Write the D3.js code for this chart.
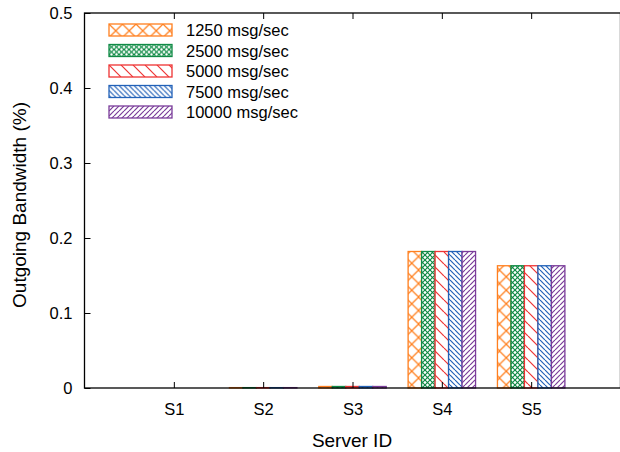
<!DOCTYPE html>
<html>
<head>
<meta charset="utf-8">
<script src="https://cdn.jsdelivr.net/npm/d3@7"></script>
<style>
  body { margin: 0; background: #fff; }
  text { font-family: "Liberation Sans", Arial, sans-serif; fill: #000; }
</style>
</head>
<body>
<svg id="chart"></svg>
<script>
var servers = ["S1", "S2", "S3", "S4", "S5"];
var seriesNames = ["1250 msg/sec", "2500 msg/sec", "5000 msg/sec", "7500 msg/sec", "10000 msg/sec"];
var bw1250 = [0, 0.0005, 0.002, 0.182, 0.163];
var bw2500 = [0, 0.0005, 0.002, 0.182, 0.163];
var bw5000 = [0, 0.0005, 0.002, 0.182, 0.163];
var bw7500 = [0, 0.0005, 0.002, 0.182, 0.163];
var bw10000 = [0, 0.0005, 0.002, 0.182, 0.163];
var yTicks = [0, 0.1, 0.2, 0.3, 0.4, 0.5];

var seriesValues = [bw1250, bw2500, bw5000, bw7500, bw10000];
var colors = ["#ff7f1e", "#0f8a45", "#ee3333", "#2262b8", "#7a3c9a"];

var width = 620, height = 452;
var plotLeft = 84.5, plotTop = 13, plotRight = 620.5, plotBottom = 388;

var svg = d3.select("#chart").attr("width", width).attr("height", height);

var x = d3.scaleLinear().domain([0, 6]).range([plotLeft, plotRight]);
var y = d3.scaleLinear().domain([0, 0.5]).range([plotBottom, plotTop]);

// hatch patterns
var defs = svg.append("defs");
function hatch(id, color, size, dirs) {
    var p = defs.append("pattern")
        .attr("id", id)
        .attr("patternUnits", "userSpaceOnUse")
        .attr("width", size).attr("height", size);
    p.append("rect").attr("width", size).attr("height", size).attr("fill", "#fff");
    dirs.forEach(function(d) {
        var lines = d === "\\" ?
            [[0, 0, size, size], [-size, 0, 0, size], [size, 0, 2 * size, size]] :
            [[0, size, size, 0], [-size, size, 0, 0], [size, size, 2 * size, 0]];
        lines.forEach(function(l) {
            p.append("line")
                .attr("x1", l[0]).attr("y1", l[1]).attr("x2", l[2]).attr("y2", l[3])
                .attr("stroke", color).attr("stroke-width", 1.2);
        });
    });
}
hatch("p0", colors[0], 13.5, ["\\", "/"]);
hatch("p1", colors[1], 5, ["\\", "/"]);
hatch("p2", colors[2], 12, ["\\"]);
hatch("p3", colors[3], 5, ["\\"]);
hatch("p4", colors[4], 5, ["/"]);

// bars
var barW = 0.151;
seriesValues.forEach(function(vals, s) {
    svg.selectAll(".bar" + s)
        .data(vals)
        .enter()
        .append("rect")
        .attr("class", "bar" + s)
        .attr("x", function(d, i) { return x(i + 1 + (s - 2.5) * barW); })
        .attr("y", function(d) { return y(d); })
        .attr("width", x(barW) - x(0))
        .attr("height", function(d) { return Math.max(0, plotBottom - y(d)); })
        .attr("fill", "url(#p" + s + ")")
        .attr("stroke", colors[s])
        .attr("stroke-width", 1.3)
        .attr("opacity", function(d) { return d > 0 ? 1 : 0; });
});

// frame
svg.append("rect")
    .attr("x", plotLeft).attr("y", plotTop)
    .attr("width", plotRight - plotLeft).attr("height", plotBottom - plotTop)
    .attr("fill", "none").attr("stroke", "#000").attr("stroke-width", 1.3);

// y axis
var yAxis = d3.axisLeft(y).tickValues(yTicks).tickSizeInner(-6).tickSizeOuter(0)
    .tickPadding(12).tickFormat(function(d) { return d === 0 ? "0" : d3.format(".1f")(d); });
var gy = svg.append("g").attr("transform", "translate(" + plotLeft + ",0)").call(yAxis);
gy.select(".domain").remove();
gy.selectAll("text").style("font-size", "16.5px").style("font-family", "Liberation Sans, Arial, sans-serif");
gy.selectAll("line").attr("stroke-width", 1);

// x axis
var xAxis = d3.axisBottom(x).tickValues([1, 2, 3, 4, 5]).tickSizeInner(-6).tickSizeOuter(0)
    .tickPadding(15).tickFormat(function(d) { return servers[d - 1]; });
var gx = svg.append("g").attr("transform", "translate(0," + plotBottom + ")").call(xAxis);
gx.select(".domain").remove();
gx.selectAll("text").style("font-size", "16.5px").style("font-family", "Liberation Sans, Arial, sans-serif");
gx.selectAll("line").attr("stroke-width", 1);

// mirrored top ticks
var gxt = svg.append("g").attr("transform", "translate(0," + plotTop + ")")
    .call(d3.axisTop(x).tickValues([1, 2, 3, 4, 5]).tickSizeInner(-6).tickSizeOuter(0).tickFormat(""));
gxt.select(".domain").remove();

// axis titles
svg.append("text")
    .attr("x", 352).attr("y", 447)
    .attr("text-anchor", "middle")
    .style("font-size", "19px")
    .text("Server ID");
svg.append("text")
    .attr("transform", "translate(26,205) rotate(-90)")
    .attr("text-anchor", "middle")
    .style("font-size", "19px")
    .text("Outgoing Bandwidth (%)");

// legend
var legend = svg.selectAll(".legend")
    .data(seriesNames)
    .enter()
    .append("g")
    .attr("class", "legend")
    .attr("transform", function(d, i) { return "translate(109," + (24 + i * 20.5) + ")"; });
legend.append("rect")
    .attr("width", 63).attr("height", 12)
    .attr("fill", function(d, i) { return "url(#p" + i + ")"; })
    .attr("stroke", function(d, i) { return colors[i]; })
    .attr("stroke-width", 1.3);
legend.append("text")
    .attr("x", 77).attr("y", 12)
    .style("font-size", "16.5px")
    .text(function(d) { return d; });
</script>
</body>
</html>
